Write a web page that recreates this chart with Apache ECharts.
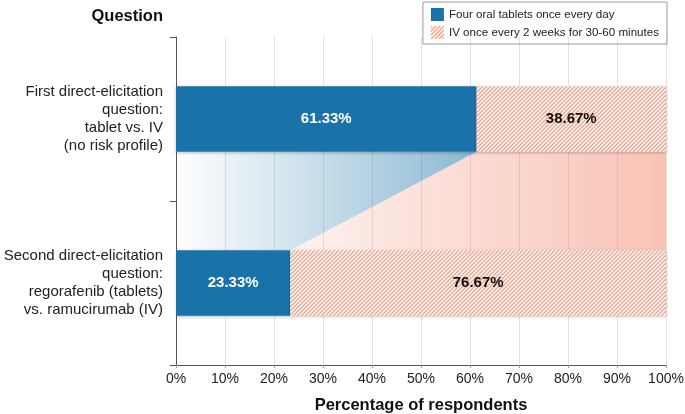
<!DOCTYPE html>
<html><head><meta charset="utf-8">
<script src="https://cdn.jsdelivr.net/npm/echarts@6/dist/echarts.min.js"></script>
<style>html,body{margin:0;padding:0;background:#fff}#c{width:685px;height:414px}</style>
</head><body><div id="c"></div>
<script>
const categories = ['First direct-elicitation\nquestion:\ntablet vs. IV\n(no risk profile)',
                    'Second direct-elicitation\nquestion:\nregorafenib (tablets)\nvs. ramucirumab (IV)'];
const tabletValues = [61.33, 23.33];
const ivValues = [38.67, 76.67];
const xTicks = [0,10,20,30,40,50,60,70,80,90,100];
const seriesNames = ['Four oral tablets once every day', 'IV once every 2 weeks for 30-60 minutes'];

const BLUE = '#1a73a8';
const FONT = 'Liberation Sans, Arial, sans-serif';
// hatch pattern
const tile = document.createElement('canvas');
tile.width = 4; tile.height = 4;
const tc = tile.getContext('2d');
tc.fillStyle = '#ffffff'; tc.fillRect(0,0,4,4);
for (let x=0;x<4;x++) for (let y=0;y<4;y++) {
  const k = (x+y)%4;
  if (k===0) { tc.fillStyle='#f4a08a'; tc.fillRect(x,y,1,1); }
  else if (k===1) { tc.fillStyle='#f9c2b3'; tc.fillRect(x,y,1,1); }
  else if (k===3) { tc.fillStyle='#fcdcd3'; tc.fillRect(x,y,1,1); }
}
const hatch = {image: tile, repeat: 'repeat'};

const chart = echarts.init(document.getElementById('c'), null, {renderer:'canvas'});
const option = {
  animation: false,
  textStyle: {fontFamily: FONT},
  grid: {left: 176, right: 19, top: 37, bottom: 49, containLabel: false, outerBoundsMode: 'none'},
  legend: {
    right: 18, top: 2, orient: 'vertical', itemGap: 5,
    itemWidth: 13, itemHeight: 13,
    padding: [6, 8, 5, 8],
    borderColor: '#9a9a9a', borderWidth: 1,
    textStyle: {fontSize: 11.6, color: '#222', fontFamily: FONT},
    data: [{name: seriesNames[0], icon: 'rect'}, {name: seriesNames[1], icon: 'rect'}]
  },
  graphic: [{
    type: 'text', right: 685-163, top: 8,
    style: {text: 'Question', font: 'bold 16.5px ' + FONT, fill: '#111', textAlign: 'right'}
  }],
  xAxis: {
    type: 'value', min: 0, max: 100, interval: 10,
    axisLabel: {formatter: '{value}%', fontSize: 14, color: '#222', margin: 7},
    axisLine: {show: true, lineStyle: {color: '#555'}},
    axisTick: {show: true, length: 3, lineStyle: {color: '#999'}},
    splitLine: {show: true, lineStyle: {color: '#e3e3e3'}},
    name: 'Percentage of respondents', nameLocation: 'middle', nameGap: 32,
    nameTextStyle: {fontSize: 16.5, fontWeight: 'bold', color: '#111'}
  },
  yAxis: {
    type: 'category', data: categories, inverse: true,
    axisLine: {show: true, lineStyle: {color: '#555'}},
    axisTick: {show: true, length: 6, lineStyle: {color: '#555'}},
    axisLabel: {fontSize: 15, color: '#222', lineHeight: 18, margin: 13, align: 'right'}
  },
  series: [
    {
      type: 'custom', name: 'link', silent: true, z: 1,
      encode: {x: [0, 1]},
      data: [[tabletValues[0], tabletValues[1]]],
      renderItem: function (params, api) {
        const h = api.size([0, 1])[1] * 0.4;
        const a0 = api.coord([0, 0]), a1 = api.coord([api.value(0), 0]), aE = api.coord([100, 0]);
        const b0 = api.coord([0, 1]), b1 = api.coord([api.value(1), 1]), bE = api.coord([100, 1]);
        const yt = a0[1] + h/2, yb = b0[1] - h/2;
        const salmon = new echarts.graphic.LinearGradient(a0[0], 0, aE[0], 0, [
          {offset: 0, color: 'rgba(240,122,92,0.0)'},
          {offset: 1, color: 'rgba(240,122,92,0.45)'}], true);
        const blue = new echarts.graphic.LinearGradient(a0[0], 0, a1[0], 0, [
          {offset: 0, color: 'rgba(26,115,168,0.0)'},
          {offset: 1, color: 'rgba(26,115,168,0.5)'}], true);
        return {type: 'group', children: [
          {type: 'polygon', shape: {points: [[a1[0], yt], [aE[0], yt], [bE[0], yb], [b1[0], yb]]},
           style: {fill: salmon}},
          {type: 'polygon', shape: {points: [[a0[0], yt], [a1[0], yt], [b1[0], yb], [b0[0], yb]]},
           style: {fill: blue}}
        ]};
      }
    },
    {
      type: 'bar', name: seriesNames[0], stack: 's', barWidth: '40%', z: 3,
      data: tabletValues,
      itemStyle: {color: BLUE, shadowBlur: 3, shadowColor: 'rgba(0,0,0,0.25)', shadowOffsetY: 1},
      label: {show: true, position: 'inside', color: '#fff', fontSize: 15, fontWeight: 'bold',
              formatter: p => p.value.toFixed(2) + '%'}
    },
    {
      type: 'bar', name: seriesNames[1], stack: 's', barWidth: '40%', z: 3,
      data: ivValues,
      itemStyle: {color: hatch, shadowBlur: 3, shadowColor: 'rgba(0,0,0,0.25)', shadowOffsetY: 1},
      label: {show: true, position: 'inside', color: '#111', fontSize: 15, fontWeight: 'bold',
              formatter: p => p.value.toFixed(2) + '%'}
    }
  ]
};
chart.setOption(option);
</script></body></html>
